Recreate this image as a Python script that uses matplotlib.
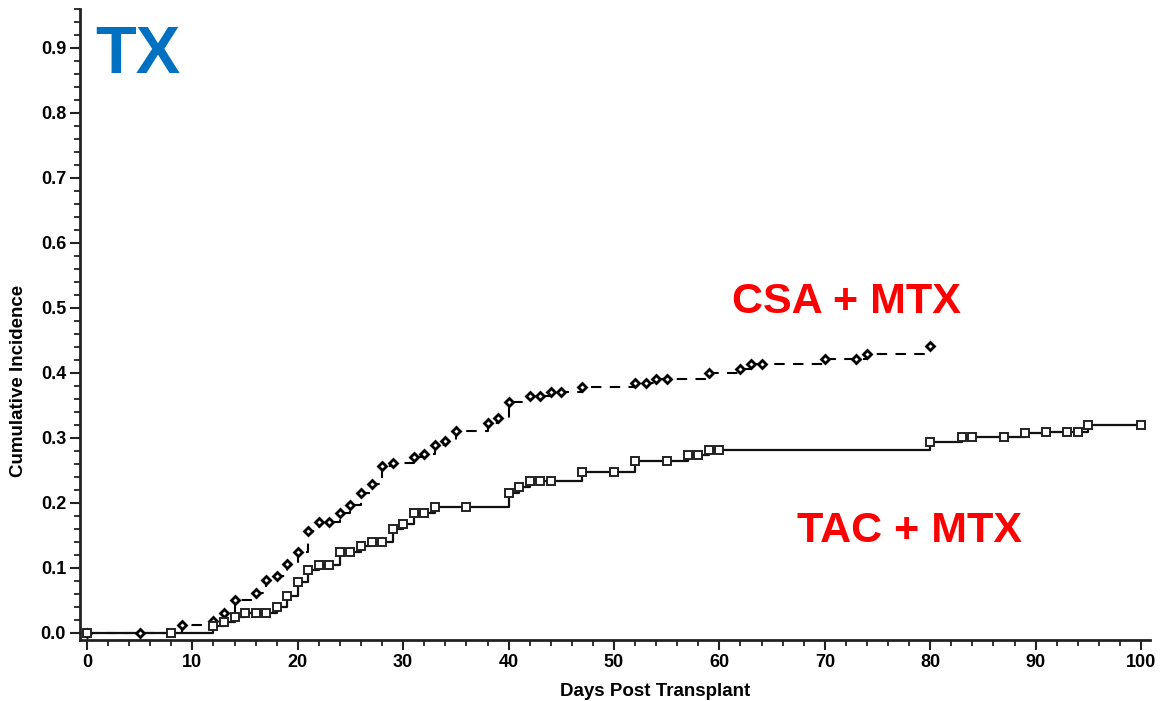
import matplotlib
matplotlib.use("Agg")
import matplotlib.pyplot as plt
from matplotlib.ticker import MultipleLocator, FormatStrFormatter

plt.rcParams['font.family'] = ['Liberation Sans', 'DejaVu Sans']

# ---- data ----
csa_days = [0, 5, 9, 12, 13, 14, 16, 17, 18, 19, 20, 21, 22, 23, 24, 25, 26, 27, 28, 29,
            31, 32, 33, 34, 35, 38, 39, 40, 42, 43, 44, 45, 47, 52, 53, 54, 55, 59, 62, 63,
            64, 70, 73, 74, 80]
csa_vals = [0.0, 0.0, 0.012, 0.018, 0.031, 0.05, 0.062, 0.081, 0.087, 0.106, 0.125, 0.157,
            0.17, 0.17, 0.184, 0.196, 0.215, 0.229, 0.256, 0.262, 0.27, 0.275, 0.289, 0.295,
            0.31, 0.323, 0.33, 0.356, 0.365, 0.365, 0.371, 0.371, 0.378, 0.385, 0.385, 0.391,
            0.391, 0.4, 0.406, 0.413, 0.413, 0.421, 0.421, 0.429, 0.441]

tac_days = [0, 8, 12, 13, 14, 15, 16, 17, 18, 19, 20, 21, 22, 23, 24, 25, 26, 27, 28, 29,
            30, 31, 32, 33, 36, 40, 41, 42, 43, 44, 47, 50, 52, 55, 57, 58, 59, 60, 80, 83,
            84, 87, 89, 91, 93, 94, 95, 100]
tac_vals = [0.0, 0.0, 0.011, 0.017, 0.024, 0.03, 0.03, 0.03, 0.04, 0.056, 0.078, 0.096,
            0.104, 0.104, 0.124, 0.124, 0.134, 0.14, 0.14, 0.16, 0.168, 0.184, 0.184, 0.193,
            0.193, 0.215, 0.225, 0.234, 0.234, 0.234, 0.248, 0.248, 0.265, 0.265, 0.274,
            0.274, 0.282, 0.282, 0.293, 0.301, 0.301, 0.301, 0.308, 0.309, 0.309, 0.309,
            0.32, 0.32]

x_label = "Days Post Transplant"
y_label = "Cumulative Incidence"
title_text = "TX"
csa_label = "CSA + MTX"
tac_label = "TAC + MTX"

# ---- figure ----
W, H = 1160, 701
fig = plt.figure(figsize=(W / 100, H / 100), dpi=100)
ax = fig.add_axes([80 / W, 1 - 640 / H, 1070 / W, 631 / H])

ax.step(csa_days, csa_vals, where='post', color='black', lw=1.5,
        linestyle=(0, (5, 4)), zorder=2)
ax.plot(csa_days, csa_vals, linestyle='none', marker='D', markersize=4.5,
        markerfacecolor='white', markeredgecolor='black', markeredgewidth=2.0, zorder=3)

ax.step(tac_days, tac_vals, where='post', color='#111111', lw=1.6, zorder=2)
ax.plot(tac_days, tac_vals, linestyle='none', marker='s', markersize=5.5,
        markerfacecolor='white', markeredgecolor='#222222', markeredgewidth=1.4, zorder=3)

ax.set_xlim(-0.66, 100.85)
ax.set_ylim(-0.011, 0.96)

for s in ['top', 'right']:
    ax.spines[s].set_visible(False)
for s in ['left', 'bottom']:
    ax.spines[s].set_linewidth(2.0)
    ax.spines[s].set_color('#222222')

ax.xaxis.set_major_locator(MultipleLocator(10))
ax.xaxis.set_minor_locator(MultipleLocator(2))
ax.yaxis.set_major_locator(MultipleLocator(0.1))
ax.yaxis.set_minor_locator(MultipleLocator(0.02))
ax.yaxis.set_major_formatter(FormatStrFormatter('%.1f'))

ax.tick_params(which='major', length=7, width=1.5, color='#222222',
               labelsize=13, pad=3)
ax.tick_params(which='minor', length=4, width=1.3, color='#222222')
for lab in ax.get_xticklabels() + ax.get_yticklabels():
    lab.set_fontweight('bold')

ax.set_xlabel(x_label, fontsize=13.5, fontweight='bold')
ax.set_ylabel(y_label, fontsize=13.5, fontweight='bold')
ax.xaxis.set_label_coords((655 - 80) / 1070, -(683 - 640) / 631)
ax.yaxis.set_label_coords((27 - 80) / 1070, (640 - 381) / 631)

fig.text(95 / W, 1 - 73 / H, title_text, color='#0070C0', fontsize=48,
         fontweight='bold', ha='left', va='baseline')
fig.text(732 / W, 1 - 313 / H, csa_label, color='#FF0000', fontsize=31,
         fontweight='bold', ha='left', va='baseline')
fig.text(797 / W, 1 - 542 / H, tac_label, color='#FF0000', fontsize=31,
         fontweight='bold', ha='left', va='baseline')

fig.savefig('out.png', dpi=100, facecolor='white')
